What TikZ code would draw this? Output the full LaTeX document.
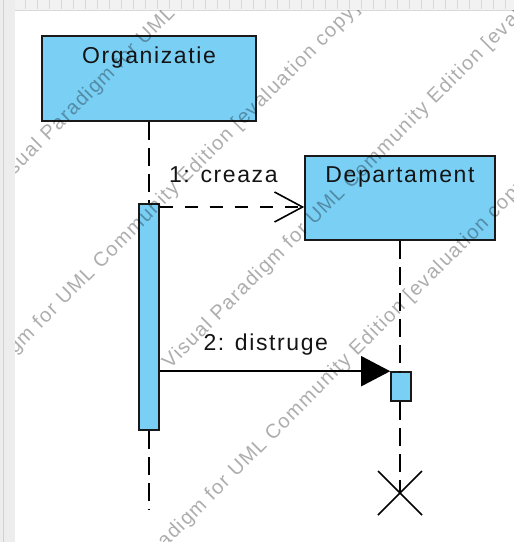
\documentclass[tikz,border=0pt]{standalone}
\usepackage{fontspec}
\setmainfont{Liberation Sans}
\newfontfamily\vpfont[LetterSpace=7]{Liberation Sans}
\usetikzlibrary{arrows.meta}
\usetikzlibrary{positioning}
\definecolor{vpblue}{RGB}{122,207,245}

\begin{document}
\begin{tikzpicture}[x=1pt,y=-1pt,
    objbox/.style={draw=black!90, fill=vpblue, line width=1.6pt, inner sep=0pt},
    actbar/.style={draw=black!90, fill=vpblue, line width=1.6pt, inner sep=0pt, minimum width=20pt},
    vptext/.style={font=\vpfont\fontsize{23}{26}\selectfont, text=black!92, inner sep=0pt},
    lifeline/.style={line width=1.6pt, dash pattern=on 18pt off 8pt},
    msgline/.style={line width=1.6pt},
    wmark/.style={font=\vpfont\fontsize{20}{24}\selectfont, text=black, text opacity=0.32, inner sep=0pt, anchor=base west, rotate=45}
]
    \useasboundingbox (0,0) rectangle (514,542);

    % editor frame
    \fill[black!7] (0,0) rectangle (15,542);
    \draw[black!18, line width=1pt] (3,0) -- (3,542);
    \fill[black!5] (15,0) rectangle (514,10);
    \foreach \tx in {25,37,...,514}
        \draw[black!15] (\tx,0) -- (\tx,9);
    \draw[black!15] (15,10) -- (514,10);

    % objects
    \node[objbox, minimum width=214pt, minimum height=85pt] (org) at (149,78.5) {};
    \node[vptext, below=11pt of org.north] (orgname) {Organizatie};
    \node[objbox, minimum width=190pt, minimum height=84pt] (dep) at (400,198) {};
    \node[vptext, below=11pt of dep.north] (depname) {Departament};

    % activations
    \node[actbar, minimum height=226pt] (orgact) at (149,317) {};
    \node[actbar, minimum height=29pt] (depact) at (401,386.5) {};

    % lifelines
    \coordinate (orgend) at (149,510);
    \coordinate (depend) at (400,493);
    \draw[lifeline] (org.south) -- (orgact.north);
    \draw[lifeline] (orgact.south) -- (orgend);
    \draw[lifeline] (dep.south) -- (dep.south |- depact.north);
    \draw[lifeline] (dep.south |- depact.south) -- (depend);
    \draw[msgline] ([shift={(-22,-22)}]depend) -- ([shift={(22,22)}]depend);
    \draw[msgline] ([shift={(-22,22)}]depend) -- ([shift={(22,-22)}]depend);

    % messages
    \coordinate (m1) at (0,207);
    \draw[msgline, dash pattern=on 13pt off 12pt, -{Straight Barb[length=28pt,width=30pt,line width=1.6pt]}]
        (orgact.east |- m1) -- (dep.west |- m1) node[vptext, pos=0.44, above=23pt] (m1label) {1: creaza};
    \draw[msgline, -{Triangle[length=29pt,width=30pt]}]
        (orgact.east |- depact.north) -- (depact.north west) node[vptext, pos=0.46, above=15pt] (m2label) {2: distruge};

    % watermark
    \begin{scope}
        \clip (15,10) rectangle (514,542);
        \foreach \wx/\wy [count=\i] in {0/190, -80/450, 170/370, 92/622}
            \node[wmark] (wm\i) at (\wx,\wy) {Visual Paradigm for UML Community Edition [evaluation copy]};
    \end{scope}

\end{tikzpicture}
\end{document}
